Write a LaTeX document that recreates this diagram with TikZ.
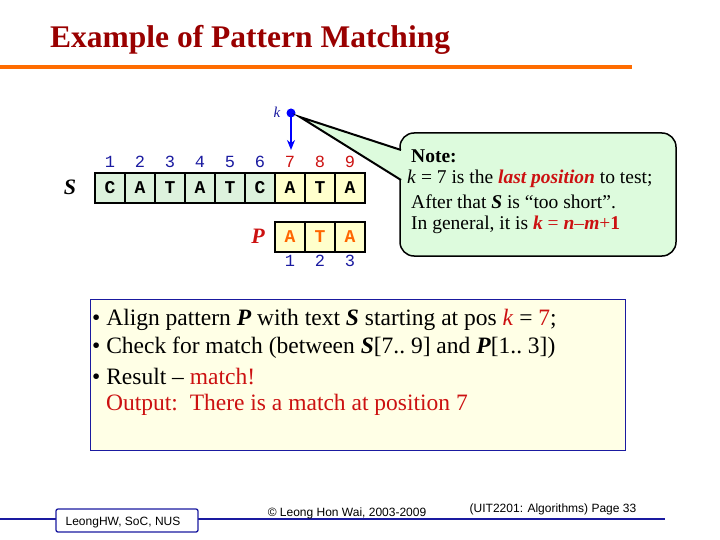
\documentclass[tikz,border=0pt]{standalone}
\usetikzlibrary{arrows.meta}
\usepackage{fontspec}
\setmainfont{Liberation Serif}
\newfontfamily\arial{Liberation Sans}
\newfontfamily\cour{Liberation Mono}
\definecolor{ttl}{HTML}{990000}
\definecolor{cg}{HTML}{DDF2DD}
\definecolor{cy}{HTML}{FFFFCC}
\definecolor{nb}{HTML}{1A1AA0}
\definecolor{nr}{HTML}{CC1111}
\definecolor{callg}{HTML}{DDFBDD}
\definecolor{byel}{HTML}{FFFFE6}
\begin{document}
\begin{tikzpicture}[x=1pt,y=-1pt,
 cell/.style={draw,line width=1.2pt,minimum width=30pt,minimum height=30pt,inner sep=0pt,font=\cour\bfseries\fontsize{18}{18}\selectfont},
 num/.style={font=\cour\fontsize{17}{17}\selectfont},
 big/.style={font=\bfseries\itshape\fontsize{22}{22}\selectfont},
 txt/.style={anchor=west,inner sep=0pt,font=\fontsize{19.5}{19.5}\selectfont},
 btxt/.style={anchor=west,inner sep=0pt,font=\fontsize{23.5}{23.5}\selectfont},
 ftxt/.style={inner sep=0pt,font=\arial\fontsize{12}{12}\selectfont}]
\useasboundingbox (0,0) rectangle (720,540);
\node[anchor=west,inner sep=0pt,text=ttl,font=\bfseries\fontsize{31.5}{31.5}\selectfont] (title) at (50,40) {Example of Pattern Matching};
\draw[line width=3.5pt,orange!85!red] (0,67) coordinate (l1) -- (632,67) coordinate (l2);
\node[big] (S) at (70,187) {S};
\foreach \c [count=\i] in {C,A,T,A,T,C,A,T,A}{
  \pgfmathsetmacro\xx{80+30*\i}
  \ifnum\i<7
   \node[cell,fill=cg] (s\i) at (\xx,188) {\c};
   \node[num,text=nb] (n\i) at (\xx,162) {\i};
  \else
   \node[cell,fill=cy] (s\i) at (\xx,188) {\c};
   \node[num,text=nr] (n\i) at (\xx,162) {\i};
  \fi}
\node[big,text=nr] (P) at (258,236) {P};
\foreach \c [count=\i] in {A,T,A}{
  \pgfmathsetmacro\xx{260+30*\i}
  \node[cell,fill=cy,text=orange!80!red] (p\i) at (\xx,237) {\c};
  \node[num,text=nb] (m\i) at (\xx,261) {\i};}
\node[font=\itshape\fontsize{15}{15}\selectfont,text=nb] (k) at (277,112) {k};
\fill[blue] (291,113) circle (4.5) coordinate (kd);
\coordinate (kt) at (291,150);
\draw[blue,line width=1.8pt,-{Stealth[length=10pt,width=8pt]}] (kd) -- (kt);
\draw[line width=1.5pt,rounded corners=14pt,fill=callg] (400,133) rectangle (676,256);
\coordinate (t1) at (401,150);\coordinate (t2) at (401,180);\coordinate (tip) at (300,117);
\fill[callg] (t1) -- (tip) -- (t2) -- cycle;
\draw[line width=2pt] (t1) -- (tip) -- (t2);
\node[txt,font=\bfseries\fontsize{19.5}{19.5}\selectfont] (c1) at (411,156) {Note:};
\node[txt] (c2) at (407,179) {\textit{k} = 7 is the \textcolor{nr}{\textbf{\textit{last position}}} to test;};
\node[txt] (c3) at (411,202) {After that \textbf{\textit{S}} is “too short”.};
\node[txt] (c4) at (411,225) {In general, it is \textcolor{nr}{\textbf{\textit{k}} = \textbf{\textit{n}}–\textbf{\textit{m}}+\textbf{1}}};
\draw[nb,line width=1pt,fill=byel] (90,299) rectangle (625,450);
\node[btxt] (b1) at (92,320) {• Align pattern \textbf{\textit{P}} with text \textbf{\textit{S}} starting at pos \textcolor{nr}{\textit{k}} = \textcolor{nr}{7};};
\node[btxt] (b2) at (92,348) {• Check for match (between \textbf{\textit{S}}[7..~9] and \textbf{\textit{P}}[1..~3])};
\node[btxt] (b3) at (92,377) {• Result – \textcolor{nr}{match!}};
\node[btxt,text=nr] (b4) at (106,405) {Output:\ \ There is a match at position 7};
\draw[nb,line width=1.5pt] (0,519) coordinate (f1) -- (665,519) coordinate (f2);
\draw[nb,line width=1.3pt,rounded corners=2pt,fill=white] (56,509) rectangle (198,532);
\node[ftxt] (f3) at (123,523) {LeongHW, SoC, NUS};
\node[ftxt] (f4) at (347,513) {© Leong Hon Wai, 2003-2009};
\node[ftxt] (f5) at (553,509) {(UIT2201: Algorithms) Page 33};
\end{tikzpicture}
\end{document}
